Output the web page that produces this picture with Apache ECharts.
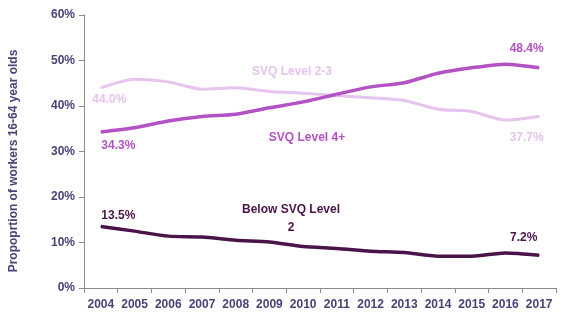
<!DOCTYPE html>
<html>
<head>
<meta charset="utf-8">
<script src="https://cdn.jsdelivr.net/npm/echarts@6/dist/echarts.min.js"></script>
<style>
  html, body { margin: 0; padding: 0; background: #fff; }
  #chart { width: 565px; height: 324px; }
</style>
</head>
<body>
<div id="chart"></div>
<script>
// Share of 16-64 year old workers by highest qualification level
const years = ['2004','2005','2006','2007','2008','2009','2010','2011','2012','2013','2014','2015','2016','2017'];
const svq4plus = [34.3, 35.2, 36.7, 37.7, 38.2, 39.6, 40.9, 42.6, 44.2, 45.1, 47.2, 48.4, 49.2, 48.4];
const svq23    = [44.0, 45.9, 45.3, 43.7, 44.0, 43.2, 42.8, 42.3, 41.8, 41.2, 39.3, 38.8, 36.9, 37.7];
const belowSvq2 = [13.5, 12.5, 11.4, 11.2, 10.5, 10.1, 9.1, 8.7, 8.1, 7.8, 7.0, 7.0, 7.7, 7.2];
const yTicks = ['0%','10%','20%','30%','40%','50%','60%'];

const FONT = 'Liberation Sans';
const AXIS_TEXT = '#4d4077';
const C_SVQ4 = '#b352c4';
const C_SVQ23 = '#e6c4ed';
const C_BELOW = '#4a144a';

// Show a value label only on the first and last year of a series
function endLabels(values, color, firstPos, lastPos) {
  return values.map((v, i) => {
    const item = { value: v };
    if (i === 0 || i === values.length - 1) {
      item.label = {
        show: true,
        position: i === 0 ? firstPos : lastPos,
        align: 'center',
        verticalAlign: 'middle',
        formatter: (p) => p.value.toFixed(1) + '%',
        color: color,
        fontFamily: FONT,
        fontWeight: 'bold',
        fontSize: 12
      };
    }
    return item;
  });
}

function lineSeries(name, values, color, width, firstPos, lastPos) {
  return {
    name: name,
    type: 'line',
    data: endLabels(values, color, firstPos, lastPos),
    smooth: 0.25,
    showSymbol: true,
    symbol: 'circle',
    symbolSize: 1,
    itemStyle: { color: color },
    lineStyle: { color: color, width: width },
    label: { show: false },
    emphasis: { disabled: true },
    animation: false
  };
}

const chart = echarts.init(document.getElementById('chart'), null, { renderer: 'canvas' });
chart.setOption({
  animation: false,
  grid: { left: 84, right: 9, top: 15, bottom: 36, containLabel: false },
  xAxis: {
    type: 'category',
    data: years,
    boundaryGap: true,
    axisLine: { lineStyle: { color: '#8c8c8c', width: 1 } },
    axisTick: { show: true, length: 5, interval: 0, lineStyle: { color: '#8c8c8c' } },
    axisLabel: { interval: 0, color: AXIS_TEXT, fontFamily: FONT, fontWeight: 'bold', fontSize: 12, margin: 11 }
  },
  yAxis: {
    type: 'value',
    min: 0,
    max: 60,
    interval: 10,
    axisLine: { show: true, lineStyle: { color: '#8c8c8c', width: 1 } },
    axisTick: { show: true, length: 5, lineStyle: { color: '#8c8c8c' } },
    splitLine: { show: false },
    axisLabel: {
      color: AXIS_TEXT, fontFamily: FONT, fontWeight: 'bold', fontSize: 12, margin: 9,
      formatter: (v) => yTicks[Math.round(v / 10)]
    }
  },
  series: [
    lineSeries('SVQ Level 2-3', svq23, C_SVQ23, 3, [9, 12], [-12, 22]),
    lineSeries('SVQ Level 4+', svq4plus, C_SVQ4, 3.5, [18, 14], [-12, -19]),
    lineSeries('Below SVQ Level 2', belowSvq2, C_BELOW, 3.5, [18, -10], [-15, -17])
  ],
  graphic: [
    {
      type: 'text', x: 14, y: 161, rotation: Math.PI / 2,
      style: {
        text: 'Propoprtion of workers 16-64 year olds',
        fill: AXIS_TEXT, font: 'bold 12px "Liberation Sans"',
        textAlign: 'center', textVerticalAlign: 'middle'
      }
    },
    {
      type: 'text', x: 292, y: 72,
      style: { text: 'SVQ Level 2-3', fill: C_SVQ23, font: 'bold 12px "Liberation Sans"', textAlign: 'center', textVerticalAlign: 'middle' }
    },
    {
      type: 'text', x: 307, y: 138,
      style: { text: 'SVQ Level 4+', fill: C_SVQ4, font: 'bold 12px "Liberation Sans"', textAlign: 'center', textVerticalAlign: 'middle' }
    },
    {
      type: 'text', x: 291, y: 219,
      style: { text: 'Below SVQ Level\n2', fill: C_BELOW, font: 'bold 12px "Liberation Sans"', textAlign: 'center', textVerticalAlign: 'middle', lineHeight: 18 }
    }
  ]
});
</script>
</body>
</html>
